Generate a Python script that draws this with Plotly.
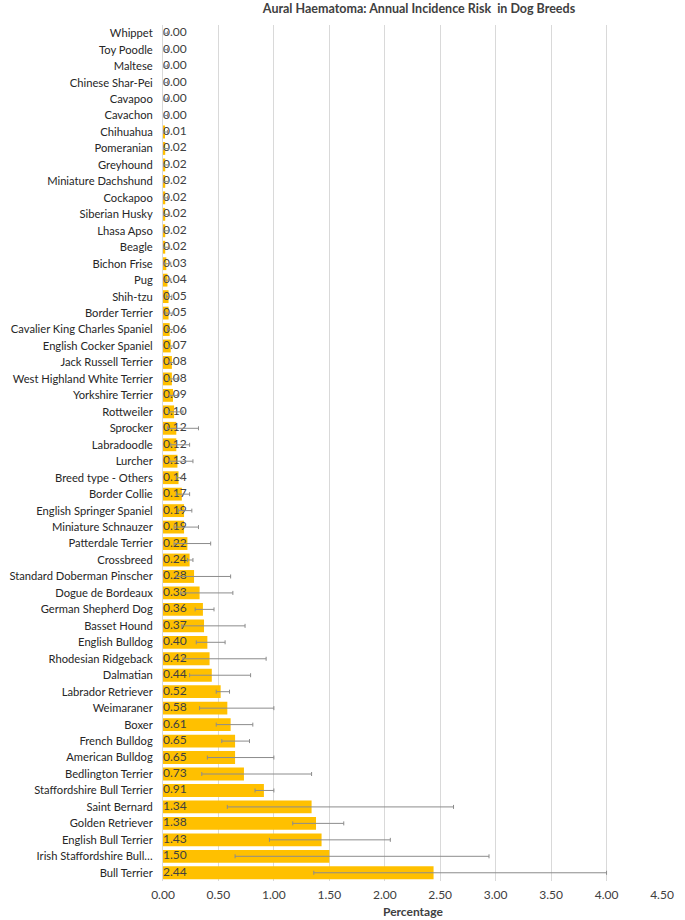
import plotly.graph_objects as go

breeds = [
    "Whippet", "Toy Poodle", "Maltese", "Chinese Shar-Pei", "Cavapoo", "Cavachon",
    "Chihuahua", "Pomeranian", "Greyhound", "Miniature Dachshund", "Cockapoo",
    "Siberian Husky", "Lhasa Apso", "Beagle", "Bichon Frise", "Pug", "Shih-tzu",
    "Border Terrier", "Cavalier King Charles Spaniel", "English Cocker Spaniel",
    "Jack Russell Terrier", "West Highland White Terrier", "Yorkshire Terrier",
    "Rottweiler", "Sprocker", "Labradoodle", "Lurcher", "Breed type - Others",
    "Border Collie", "English Springer Spaniel", "Miniature Schnauzer",
    "Patterdale Terrier", "Crossbreed", "Standard Doberman Pinscher",
    "Dogue de Bordeaux", "German Shepherd Dog", "Basset Hound", "English Bulldog",
    "Rhodesian Ridgeback", "Dalmatian", "Labrador Retriever", "Weimaraner", "Boxer",
    "French Bulldog", "American Bulldog", "Bedlington Terrier",
    "Staffordshire Bull Terrier", "Saint Bernard", "Golden Retriever",
    "English Bull Terrier", "Irish Staffordshire Bull…", "Bull Terrier",
]
incidence = [
    0.00, 0.00, 0.00, 0.00, 0.00, 0.00,
    0.01, 0.02, 0.02, 0.02, 0.02,
    0.02, 0.02, 0.02, 0.03, 0.04, 0.05,
    0.05, 0.06, 0.07,
    0.08, 0.08, 0.09,
    0.10, 0.12, 0.12, 0.13, 0.14,
    0.17, 0.19, 0.19,
    0.22, 0.24, 0.28,
    0.33, 0.36, 0.37, 0.40,
    0.42, 0.44, 0.52, 0.58, 0.61,
    0.65, 0.65, 0.73,
    0.91, 1.34, 1.38,
    1.43, 1.50, 2.44,
]
ci_lower = [
    0.00, 0.00, 0.00, 0.00, 0.00, 0.00,
    0.00, 0.00, 0.00, 0.00, 0.01,
    0.00, 0.00, 0.00, 0.01, 0.02, 0.03,
    0.02, 0.04, 0.05,
    0.06, 0.05, 0.06,
    0.05, 0.04, 0.07, 0.06, 0.12,
    0.12, 0.14, 0.10,
    0.10, 0.22, 0.12,
    0.16, 0.29, 0.17, 0.30,
    0.18, 0.24, 0.48, 0.33, 0.48,
    0.53, 0.40, 0.35,
    0.83, 0.58, 1.17,
    0.96, 0.65, 1.36,
]
ci_upper = [
    0.04, 0.04, 0.04, 0.04, 0.04, 0.04,
    0.04, 0.05, 0.05, 0.05, 0.04,
    0.06, 0.05, 0.06, 0.07, 0.07, 0.08,
    0.09, 0.10, 0.10,
    0.10, 0.13, 0.13,
    0.18, 0.32, 0.24, 0.27, 0.17,
    0.24, 0.26, 0.32,
    0.43, 0.27, 0.61,
    0.63, 0.46, 0.74, 0.56,
    0.93, 0.79, 0.60, 1.00, 0.81,
    0.78, 1.00, 1.34,
    1.00, 2.62, 1.63,
    2.05, 2.94, 4.00,
]
x_ticks = [0, 0.5, 1.0, 1.5, 2.0, 2.5, 3.0, 3.5, 4.0, 4.5]

err_plus = [max(u - v, 0) for u, v in zip(ci_upper, incidence)]
err_minus = [max(v - l, 0) for l, v in zip(ci_lower, incidence)]
labels = [f"{v:.2f}" for v in incidence]

FONT = "Lato, 'Open Sans', sans-serif"
fig = go.Figure()
fig.add_trace(go.Bar(
    y=breeds, x=incidence, orientation="h",
    marker=dict(color="#FFC000", line=dict(width=0)),
    hoverinfo="skip",
))
fig.add_trace(go.Scatter(
    y=breeds, x=[0] * len(breeds), mode="text", text=labels,
    textposition="middle right",
    textfont=dict(family=FONT, size=12, color="#404040"),
    hoverinfo="skip",
))
fig.add_trace(go.Scatter(
    y=breeds, x=incidence, mode="markers",
    marker=dict(size=0.1, opacity=0),
    error_x=dict(type="data", symmetric=False, array=err_plus, arrayminus=err_minus,
                 color="#8c8c8c", thickness=1, width=2),
    hoverinfo="skip",
))

fig.update_layout(
    width=685, height=920,
    paper_bgcolor="white", plot_bgcolor="white",
    showlegend=False,
    bargap=0.22,
    margin=dict(l=163, r=23, t=25, b=39),
    font=dict(family=FONT, size=12, color="#404040"),
    title=dict(text="<b>Aural Haematoma: Annual Incidence Risk  in Dog Breeds</b>",
               x=419 / 685, xref="container", xanchor="center",
               y=1 - 9 / 920, yref="container", yanchor="middle",
               font=dict(family=FONT, size=12.5, color="#404040")),
)
fig.add_annotation(text="<b>Percentage</b>", x=0.5, xref="paper", xanchor="center",
                   y=0, yref="paper", yanchor="top", yshift=-21, showarrow=False,
                   font=dict(family=FONT, size=12, color="#404040"))
fig.update_xaxes(
    range=[0, 4.5], tickmode="array", tickvals=x_ticks,
    ticktext=[f"{t:.2f}" for t in x_ticks],
    showgrid=True, gridcolor="#d9d9d9", gridwidth=1,
    zeroline=False, showline=False, ticks="", automargin=False,
    ticklabelstandoff=5,
    tickfont=dict(family=FONT, size=12, color="#404040"),
)
fig.update_yaxes(
    type="category", range=[len(breeds) - 0.5, -0.5],
    tickmode="array", tickvals=breeds, ticktext=breeds,
    showgrid=False, showline=True, linecolor="#d9d9d9", linewidth=1,
    ticks="", ticklabelstandoff=7, automargin=False,
    tickfont=dict(family=FONT, size=11.2, color="#262626"),
)
fig.write_html("out.html",
               config={"displayModeBar": False},
               post_script="document.body.style.margin='0';")
